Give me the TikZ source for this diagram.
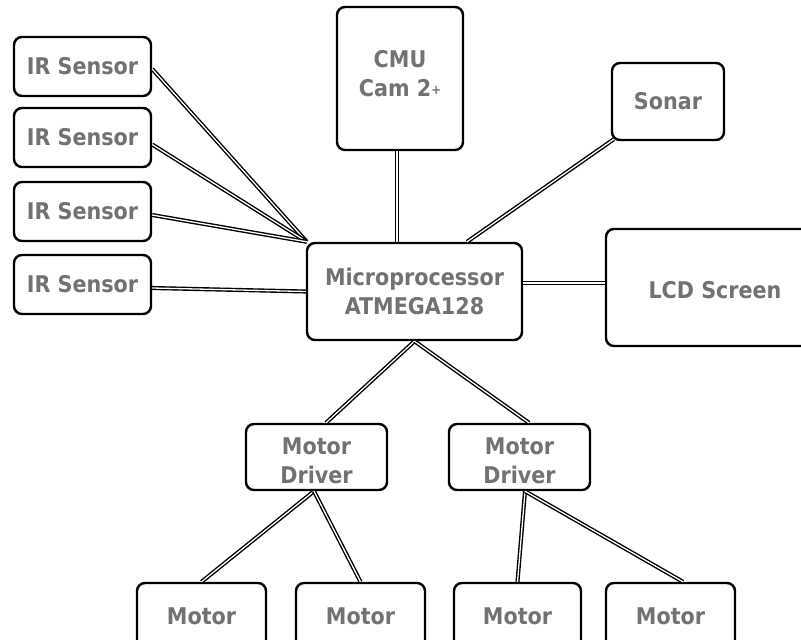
\documentclass[tikz,border=0pt]{standalone}
\usepackage{fontspec}
\newfontfamily\lblfont{DejaVu Sans Condensed Bold}
\definecolor{txtgray}{HTML}{727272}
\newcommand{\lowr}[2]{\raisebox{#1}[\height][\depth]{#2}}
\begin{document}
\begin{tikzpicture}[x=1pt,y=-1pt,
  box/.style={draw=black, line width=2.4pt, rounded corners=8pt, fill=white,
    inner sep=0pt, align=center, text=txtgray,
    font=\lblfont\fontsize{23}{29}\selectfont},
  wire/.style={draw=black, line width=1.4pt, double=white, double distance=1.3pt}]
\useasboundingbox (0,0) rectangle (801,640);
\clip (0,0) rectangle (801,640);
% nodes
\node[box, minimum width=137pt, minimum height=59pt] (ir1) at (82.5,66.5) {IR Sensor};
\node[box, minimum width=137pt, minimum height=59pt] (ir2) at (82.5,137.5) {IR Sensor};
\node[box, minimum width=137pt, minimum height=59pt] (ir3) at (82.5,211.5) {IR Sensor};
\node[box, minimum width=137pt, minimum height=59pt] (ir4) at (82.5,284.5) {IR Sensor};
\node[box, minimum width=126pt, minimum height=143pt] (cmu) at (400,78.5) {\lowr{4.5pt}{CMU}\\\lowr{4.5pt}{Cam 2\raisebox{2pt}{\fontsize{13}{13}\selectfont +}}};
\node[box, minimum width=112pt, minimum height=77pt] (sonar) at (668,101.5) {Sonar};
\node[box, minimum width=215pt, minimum height=97pt] (mp) at (414.5,291.5) {Microprocessor\\ATMEGA128};
\node[box, minimum width=218pt, minimum height=117pt] (lcd) at (715,287.5) {\lowr{-3pt}{LCD Screen}};
\node[box, minimum width=141pt, minimum height=66pt] (md1) at (316.5,457) {\lowr{-4pt}{Motor}\\\lowr{-4pt}{Driver}};
\node[box, minimum width=141pt, minimum height=66pt] (md2) at (519.5,457) {\lowr{-4pt}{Motor}\\\lowr{-4pt}{Driver}};
\node[box, minimum width=129pt, minimum height=66pt] (m1) at (201.5,616) {Motor};
\node[box, minimum width=129pt, minimum height=66pt] (m2) at (360.5,616) {Motor};
\node[box, minimum width=127pt, minimum height=66pt] (m3) at (517.5,616) {Motor};
\node[box, minimum width=129pt, minimum height=66pt] (m4) at (670.5,616) {Motor};
% connectors
\draw[wire] ([yshift=-2.5pt]ir1.east) -- ([xshift=1pt]mp.north west);
\draw[wire] ([yshift=-7pt]ir2.east) -- ([xshift=1pt]mp.north west);
\draw[wire] ([yshift=-3.5pt]ir3.east) -- ([xshift=1pt]mp.north west);
\draw[wire] ([yshift=-3.5pt]ir4.east) -- (mp.west);
\draw[wire] ([xshift=-3pt]cmu.south) coordinate (c1) -- (c1 |- mp.north);
\draw[wire] ([xshift=3pt,yshift=2pt]sonar.south west) -- ([xshift=52.5pt]mp.north);
\draw[wire] ([yshift=8.5pt]mp.east) coordinate (l1) -- (l1 -| lcd.west);
\draw[wire] (mp.south) -- ([xshift=9.5pt]md1.north);
\draw[wire] (mp.south) -- ([xshift=9.5pt]md2.north);
\draw[wire] ([xshift=-2.5pt]md1.south) -- (m1.north);
\draw[wire] ([xshift=-2.5pt]md1.south) -- (m2.north);
\draw[wire] ([xshift=5.5pt]md2.south) -- (m3.north);
\draw[wire] ([xshift=5.5pt]md2.south) -- ([xshift=12.5pt]m4.north);
\end{tikzpicture}
\end{document}
